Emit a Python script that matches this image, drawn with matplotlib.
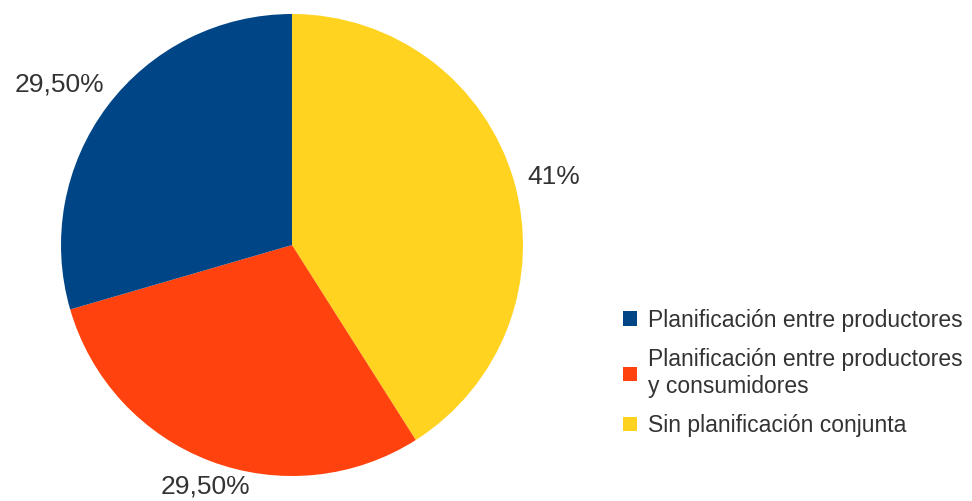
import matplotlib.pyplot as plt

labels = ["Planificación entre productores",
          "Planificación entre productores\ny consumidores",
          "Sin planificación conjunta"]
values = [29.5, 29.5, 41.0]
pct_labels = ["29,50%", "29,50%", "41%"]
colors = ["#004586", "#ff420e", "#ffd320"]

plt.rcParams['font.family'] = ['Liberation Sans', 'DejaVu Sans']

fig = plt.figure(figsize=(9.72, 5.01), dpi=100)
ax = fig.add_axes([61 / 972, 25 / 501, 462 / 972, 462 / 501])

# draw yellow first, clockwise from top, as in the original
order = [2, 1, 0]
wedges, texts = ax.pie([values[i] for i in order],
                       labels=[pct_labels[i] for i in order],
                       colors=[colors[i] for i in order],
                       startangle=90, counterclock=False,
                       labeldistance=1.06,
                       textprops=dict(fontsize=19, color="#333333"))
ax.set_xlim(-1, 1)
ax.set_ylim(-1, 1)
ax.set_aspect("equal")

# orange label sits below the pie, blue one above-left
texts[1].set_ha("center")
texts[1].set_va("top")
texts[2].set_va("bottom")
bx, by = texts[2].get_position()
texts[2].set_position((bx * 0.96, by * 1.01))

handles = [wedges[2], wedges[1], wedges[0]]
leg = fig.legend(handles, labels, loc="center left",
                 bbox_to_anchor=(623 / 972, 1 - 373 / 501),
                 frameon=False, fontsize=16.5, labelcolor="#333333",
                 handlelength=0.6, handleheight=0.6, handletextpad=0.5,
                 labelspacing=0.72, borderpad=0, borderaxespad=0)

fig.savefig("out.png", dpi=100)
